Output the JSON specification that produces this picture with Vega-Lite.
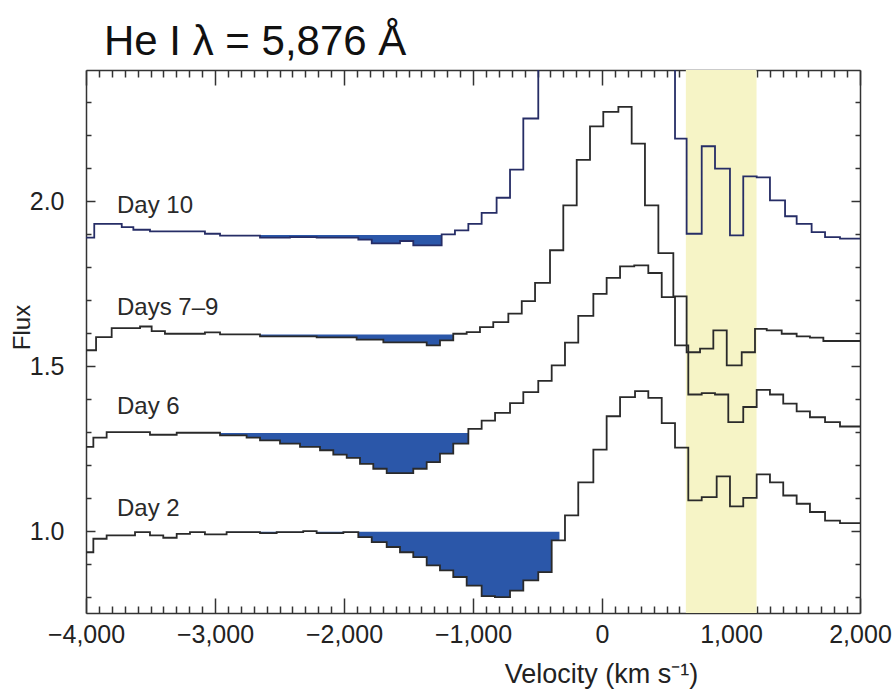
{
  "$schema": "https://vega.github.io/schema/vega-lite/v6.json",
  "width": 774,
  "height": 543,
  "autosize": "none",
  "padding": {"left": 86, "top": 70, "right": 32, "bottom": 78},
  "background": "white",
  "title": {"text": "He I λ = 5,876 Å", "anchor": "start", "frame": "group", "font": "Liberation Sans", "fontSize": 42, "fontWeight": "normal", "color": "#111111", "dx": 18, "dy": 45, "offset": 17, "baseline": "alphabetic"},
  "config": {
    "view": {"stroke": null},
    "axis": {"grid": false, "domainColor": "#333333", "domainWidth": 1.5, "tickColor": "#333333", "tickWidth": 1.5, "labelFont": "Liberation Sans", "labelFontSize": 25, "labelColor": "#222222", "titleFont": "Liberation Sans", "titleFontSize": 25, "titleFontWeight": "normal", "titleColor": "#222222", "labelOverlap": false, "labelBound": false, "labelFlush": false, "zindex": 1}
  },
  "datasets": {
    "band": [{"v0": 650, "v1": 1198}],
    "spectra": [
      {"series": "Day 2", "v": -4000, "f": 0.936}, {"series": "Day 2", "v": -3943, "f": 0.977}, {"series": "Day 2", "v": -3840, "f": 0.987}, {"series": "Day 2", "v": -3620, "f": 0.997}, {"series": "Day 2", "v": -3504, "f": 0.987}, {"series": "Day 2", "v": -3401, "f": 0.980}, {"series": "Day 2", "v": -3297, "f": 0.992}, {"series": "Day 2", "v": -3194, "f": 0.997}, {"series": "Day 2", "v": -3078, "f": 0.990}, {"series": "Day 2", "v": -2910, "f": 0.997}, {"series": "Day 2", "v": -2651, "f": 0.994}, {"series": "Day 2", "v": -2522, "f": 0.997}, {"series": "Day 2", "v": -2316, "f": 1.000}, {"series": "Day 2", "v": -2212, "f": 0.994}, {"series": "Day 2", "v": -2005, "f": 0.997}, {"series": "Day 2", "v": -1889, "f": 0.982}, {"series": "Day 2", "v": -1785, "f": 0.967}, {"series": "Day 2", "v": -1669, "f": 0.952}, {"series": "Day 2", "v": -1566, "f": 0.936}, {"series": "Day 2", "v": -1463, "f": 0.921}, {"series": "Day 2", "v": -1359, "f": 0.896}, {"series": "Day 2", "v": -1256, "f": 0.881}, {"series": "Day 2", "v": -1153, "f": 0.861}, {"series": "Day 2", "v": -1049, "f": 0.835}, {"series": "Day 2", "v": -933, "f": 0.803}, {"series": "Day 2", "v": -830, "f": 0.800}, {"series": "Day 2", "v": -713, "f": 0.820}, {"series": "Day 2", "v": -610, "f": 0.851}, {"series": "Day 2", "v": -494, "f": 0.876}, {"series": "Day 2", "v": -390, "f": 0.972}, {"series": "Day 2", "v": -287, "f": 1.048}, {"series": "Day 2", "v": -184, "f": 1.148}, {"series": "Day 2", "v": -67, "f": 1.247}, {"series": "Day 2", "v": 36, "f": 1.348}, {"series": "Day 2", "v": 140, "f": 1.406}, {"series": "Day 2", "v": 256, "f": 1.424}, {"series": "Day 2", "v": 359, "f": 1.404}, {"series": "Day 2", "v": 463, "f": 1.327}, {"series": "Day 2", "v": 566, "f": 1.253}, {"series": "Day 2", "v": 669, "f": 1.093}, {"series": "Day 2", "v": 773, "f": 1.103}, {"series": "Day 2", "v": 889, "f": 1.166}, {"series": "Day 2", "v": 992, "f": 1.075}, {"series": "Day 2", "v": 1095, "f": 1.101}, {"series": "Day 2", "v": 1199, "f": 1.172}, {"series": "Day 2", "v": 1302, "f": 1.148}, {"series": "Day 2", "v": 1405, "f": 1.108}, {"series": "Day 2", "v": 1509, "f": 1.083}, {"series": "Day 2", "v": 1612, "f": 1.058}, {"series": "Day 2", "v": 1729, "f": 1.032}, {"series": "Day 2", "v": 1845, "f": 1.024}, {"series": "Day 2", "v": 2000, "f": 1.024},
      {"series": "Day 6", "v": -4000, "f": 1.255}, {"series": "Day 6", "v": -3943, "f": 1.283}, {"series": "Day 6", "v": -3840, "f": 1.300}, {"series": "Day 6", "v": -3504, "f": 1.292}, {"series": "Day 6", "v": -3297, "f": 1.298}, {"series": "Day 6", "v": -2961, "f": 1.290}, {"series": "Day 6", "v": -2755, "f": 1.283}, {"series": "Day 6", "v": -2651, "f": 1.275}, {"series": "Day 6", "v": -2496, "f": 1.265}, {"series": "Day 6", "v": -2341, "f": 1.255}, {"series": "Day 6", "v": -2186, "f": 1.245}, {"series": "Day 6", "v": -2083, "f": 1.232}, {"series": "Day 6", "v": -1979, "f": 1.222}, {"series": "Day 6", "v": -1876, "f": 1.204}, {"series": "Day 6", "v": -1773, "f": 1.189}, {"series": "Day 6", "v": -1669, "f": 1.176}, {"series": "Day 6", "v": -1566, "f": 1.176}, {"series": "Day 6", "v": -1463, "f": 1.189}, {"series": "Day 6", "v": -1359, "f": 1.209}, {"series": "Day 6", "v": -1256, "f": 1.235}, {"series": "Day 6", "v": -1153, "f": 1.265}, {"series": "Day 6", "v": -1036, "f": 1.310}, {"series": "Day 6", "v": -933, "f": 1.335}, {"series": "Day 6", "v": -829, "f": 1.358}, {"series": "Day 6", "v": -713, "f": 1.388}, {"series": "Day 6", "v": -610, "f": 1.421}, {"series": "Day 6", "v": -494, "f": 1.455}, {"series": "Day 6", "v": -390, "f": 1.502}, {"series": "Day 6", "v": -287, "f": 1.571}, {"series": "Day 6", "v": -184, "f": 1.652}, {"series": "Day 6", "v": -67, "f": 1.719}, {"series": "Day 6", "v": 36, "f": 1.767}, {"series": "Day 6", "v": 140, "f": 1.802}, {"series": "Day 6", "v": 250, "f": 1.805}, {"series": "Day 6", "v": 359, "f": 1.782}, {"series": "Day 6", "v": 463, "f": 1.709}, {"series": "Day 6", "v": 566, "f": 1.563}, {"series": "Day 6", "v": 669, "f": 1.414}, {"series": "Day 6", "v": 773, "f": 1.418}, {"series": "Day 6", "v": 876, "f": 1.414}, {"series": "Day 6", "v": 979, "f": 1.330}, {"series": "Day 6", "v": 1095, "f": 1.376}, {"series": "Day 6", "v": 1199, "f": 1.428}, {"series": "Day 6", "v": 1302, "f": 1.414}, {"series": "Day 6", "v": 1405, "f": 1.386}, {"series": "Day 6", "v": 1509, "f": 1.363}, {"series": "Day 6", "v": 1612, "f": 1.345}, {"series": "Day 6", "v": 1729, "f": 1.330}, {"series": "Day 6", "v": 1845, "f": 1.317}, {"series": "Day 6", "v": 2000, "f": 1.317},
      {"series": "Days 7–9", "v": -4000, "f": 1.548}, {"series": "Days 7–9", "v": -3922, "f": 1.588}, {"series": "Days 7–9", "v": -3801, "f": 1.615}, {"series": "Days 7–9", "v": -3581, "f": 1.620}, {"series": "Days 7–9", "v": -3491, "f": 1.606}, {"series": "Days 7–9", "v": -3388, "f": 1.598}, {"series": "Days 7–9", "v": -3078, "f": 1.602}, {"series": "Days 7–9", "v": -2961, "f": 1.596}, {"series": "Days 7–9", "v": -2651, "f": 1.590}, {"series": "Days 7–9", "v": -2212, "f": 1.587}, {"series": "Days 7–9", "v": -1902, "f": 1.580}, {"series": "Days 7–9", "v": -1695, "f": 1.572}, {"series": "Days 7–9", "v": -1359, "f": 1.563}, {"series": "Days 7–9", "v": -1256, "f": 1.578}, {"series": "Days 7–9", "v": -1153, "f": 1.598}, {"series": "Days 7–9", "v": -1049, "f": 1.603}, {"series": "Days 7–9", "v": -946, "f": 1.618}, {"series": "Days 7–9", "v": -843, "f": 1.633}, {"series": "Days 7–9", "v": -726, "f": 1.659}, {"series": "Days 7–9", "v": -622, "f": 1.697}, {"series": "Days 7–9", "v": -519, "f": 1.752}, {"series": "Days 7–9", "v": -403, "f": 1.851}, {"series": "Days 7–9", "v": -300, "f": 1.987}, {"series": "Days 7–9", "v": -196, "f": 2.125}, {"series": "Days 7–9", "v": -93, "f": 2.226}, {"series": "Days 7–9", "v": 10, "f": 2.270}, {"series": "Days 7–9", "v": 127, "f": 2.285}, {"series": "Days 7–9", "v": 230, "f": 2.174}, {"series": "Days 7–9", "v": 333, "f": 1.987}, {"series": "Days 7–9", "v": 437, "f": 1.842}, {"series": "Days 7–9", "v": 553, "f": 1.711}, {"series": "Days 7–9", "v": 656, "f": 1.542}, {"series": "Days 7–9", "v": 760, "f": 1.553}, {"series": "Days 7–9", "v": 863, "f": 1.608}, {"series": "Days 7–9", "v": 967, "f": 1.502}, {"series": "Days 7–9", "v": 1083, "f": 1.542}, {"series": "Days 7–9", "v": 1186, "f": 1.613}, {"series": "Days 7–9", "v": 1277, "f": 1.608}, {"series": "Days 7–9", "v": 1393, "f": 1.598}, {"series": "Days 7–9", "v": 1509, "f": 1.590}, {"series": "Days 7–9", "v": 1612, "f": 1.586}, {"series": "Days 7–9", "v": 1716, "f": 1.576}, {"series": "Days 7–9", "v": 2000, "f": 1.576},
      {"series": "Day 10", "v": -4000, "f": 1.889}, {"series": "Day 10", "v": -3936, "f": 1.931}, {"series": "Day 10", "v": -3723, "f": 1.921}, {"series": "Day 10", "v": -3633, "f": 1.913}, {"series": "Day 10", "v": -3504, "f": 1.908}, {"series": "Day 10", "v": -3078, "f": 1.901}, {"series": "Day 10", "v": -2961, "f": 1.895}, {"series": "Day 10", "v": -2651, "f": 1.889}, {"series": "Day 10", "v": -2419, "f": 1.891}, {"series": "Day 10", "v": -2212, "f": 1.889}, {"series": "Day 10", "v": -1889, "f": 1.883}, {"series": "Day 10", "v": -1785, "f": 1.872}, {"series": "Day 10", "v": -1566, "f": 1.879}, {"series": "Day 10", "v": -1463, "f": 1.866}, {"series": "Day 10", "v": -1243, "f": 1.899}, {"series": "Day 10", "v": -1140, "f": 1.911}, {"series": "Day 10", "v": -1036, "f": 1.931}, {"series": "Day 10", "v": -933, "f": 1.964}, {"series": "Day 10", "v": -817, "f": 2.010}, {"series": "Day 10", "v": -713, "f": 2.095}, {"series": "Day 10", "v": -610, "f": 2.250}, {"series": "Day 10", "v": -494, "f": 2.5}, {"series": "Day 10", "v": -390, "f": 2.7}, {"series": "Day 10", "v": -287, "f": 2.85}, {"series": "Day 10", "v": -184, "f": 2.95}, {"series": "Day 10", "v": -80, "f": 3.0}, {"series": "Day 10", "v": 23, "f": 2.95}, {"series": "Day 10", "v": 127, "f": 2.85}, {"series": "Day 10", "v": 230, "f": 2.7}, {"series": "Day 10", "v": 333, "f": 2.6}, {"series": "Day 10", "v": 437, "f": 2.45}, {"series": "Day 10", "v": 566, "f": 2.189}, {"series": "Day 10", "v": 656, "f": 1.901}, {"series": "Day 10", "v": 773, "f": 2.166}, {"series": "Day 10", "v": 876, "f": 2.098}, {"series": "Day 10", "v": 992, "f": 1.896}, {"series": "Day 10", "v": 1095, "f": 2.075}, {"series": "Day 10", "v": 1199, "f": 2.072}, {"series": "Day 10", "v": 1302, "f": 2.002}, {"series": "Day 10", "v": 1419, "f": 1.954}, {"series": "Day 10", "v": 1509, "f": 1.931}, {"series": "Day 10", "v": 1625, "f": 1.906}, {"series": "Day 10", "v": 1729, "f": 1.891}, {"series": "Day 10", "v": 1845, "f": 1.886}, {"series": "Day 10", "v": 2000, "f": 1.886}
    ],
    "fills": [
      {"series": "Day 10", "v": -2961, "f": 1.895, "lvl": 1.897}, {"series": "Day 10", "v": -2651, "f": 1.889, "lvl": 1.897}, {"series": "Day 10", "v": -2419, "f": 1.891, "lvl": 1.897}, {"series": "Day 10", "v": -2212, "f": 1.889, "lvl": 1.897}, {"series": "Day 10", "v": -1889, "f": 1.883, "lvl": 1.897}, {"series": "Day 10", "v": -1785, "f": 1.872, "lvl": 1.897}, {"series": "Day 10", "v": -1566, "f": 1.879, "lvl": 1.897}, {"series": "Day 10", "v": -1463, "f": 1.866, "lvl": 1.897}, {"series": "Day 10", "v": -1243, "f": 1.897, "lvl": 1.897},
      {"series": "Days 7–9", "v": -2961, "f": 1.596, "lvl": 1.596}, {"series": "Days 7–9", "v": -2651, "f": 1.590, "lvl": 1.596}, {"series": "Days 7–9", "v": -2212, "f": 1.587, "lvl": 1.596}, {"series": "Days 7–9", "v": -1902, "f": 1.580, "lvl": 1.596}, {"series": "Days 7–9", "v": -1695, "f": 1.572, "lvl": 1.596}, {"series": "Days 7–9", "v": -1359, "f": 1.563, "lvl": 1.596}, {"series": "Days 7–9", "v": -1256, "f": 1.578, "lvl": 1.596}, {"series": "Days 7–9", "v": -1153, "f": 1.596, "lvl": 1.596},
      {"series": "Day 6", "v": -2961, "f": 1.290, "lvl": 1.297}, {"series": "Day 6", "v": -2755, "f": 1.283, "lvl": 1.297}, {"series": "Day 6", "v": -2651, "f": 1.275, "lvl": 1.297}, {"series": "Day 6", "v": -2496, "f": 1.265, "lvl": 1.297}, {"series": "Day 6", "v": -2341, "f": 1.255, "lvl": 1.297}, {"series": "Day 6", "v": -2186, "f": 1.245, "lvl": 1.297}, {"series": "Day 6", "v": -2083, "f": 1.232, "lvl": 1.297}, {"series": "Day 6", "v": -1979, "f": 1.222, "lvl": 1.297}, {"series": "Day 6", "v": -1876, "f": 1.204, "lvl": 1.297}, {"series": "Day 6", "v": -1773, "f": 1.189, "lvl": 1.297}, {"series": "Day 6", "v": -1669, "f": 1.176, "lvl": 1.297}, {"series": "Day 6", "v": -1566, "f": 1.176, "lvl": 1.297}, {"series": "Day 6", "v": -1463, "f": 1.189, "lvl": 1.297}, {"series": "Day 6", "v": -1359, "f": 1.209, "lvl": 1.297}, {"series": "Day 6", "v": -1256, "f": 1.235, "lvl": 1.297}, {"series": "Day 6", "v": -1153, "f": 1.265, "lvl": 1.297}, {"series": "Day 6", "v": -1036, "f": 1.297, "lvl": 1.297},
      {"series": "Day 2", "v": -2910, "f": 0.997, "lvl": 0.998}, {"series": "Day 2", "v": -2651, "f": 0.994, "lvl": 0.998}, {"series": "Day 2", "v": -2522, "f": 0.997, "lvl": 0.998}, {"series": "Day 2", "v": -2316, "f": 0.998, "lvl": 0.998}, {"series": "Day 2", "v": -2212, "f": 0.994, "lvl": 0.998}, {"series": "Day 2", "v": -2005, "f": 0.997, "lvl": 0.998}, {"series": "Day 2", "v": -1889, "f": 0.982, "lvl": 0.998}, {"series": "Day 2", "v": -1785, "f": 0.967, "lvl": 0.998}, {"series": "Day 2", "v": -1669, "f": 0.952, "lvl": 0.998}, {"series": "Day 2", "v": -1566, "f": 0.936, "lvl": 0.998}, {"series": "Day 2", "v": -1463, "f": 0.921, "lvl": 0.998}, {"series": "Day 2", "v": -1359, "f": 0.896, "lvl": 0.998}, {"series": "Day 2", "v": -1256, "f": 0.881, "lvl": 0.998}, {"series": "Day 2", "v": -1153, "f": 0.861, "lvl": 0.998}, {"series": "Day 2", "v": -1049, "f": 0.835, "lvl": 0.998}, {"series": "Day 2", "v": -933, "f": 0.803, "lvl": 0.998}, {"series": "Day 2", "v": -830, "f": 0.800, "lvl": 0.998}, {"series": "Day 2", "v": -713, "f": 0.820, "lvl": 0.998}, {"series": "Day 2", "v": -610, "f": 0.851, "lvl": 0.998}, {"series": "Day 2", "v": -494, "f": 0.876, "lvl": 0.998}, {"series": "Day 2", "v": -390, "f": 0.972, "lvl": 0.998}, {"series": "Day 2", "v": -330, "f": 0.998, "lvl": 0.998}
    ],
    "labels": [
      {"v": -3760, "f": 1.965, "text": "Day 10"},
      {"v": -3760, "f": 1.654, "text": "Days 7–9"},
      {"v": -3760, "f": 1.356, "text": "Day 6"},
      {"v": -3760, "f": 1.0445, "text": "Day 2"}
    ]
  },
  "layer": [
    {
      "data": {"name": "band"},
      "mark": {"type": "rect", "color": "#f6f4c6"},
      "encoding": {
        "x": {"field": "v0", "type": "quantitative", "scale": {"domain": [-4000, 2000], "nice": false, "zero": false}, "axis": null},
        "x2": {"field": "v1"}
      }
    },
    {
      "data": {"name": "fills"},
      "mark": {"type": "area", "interpolate": "step-after", "color": "#2b57a9", "opacity": 1},
      "encoding": {
        "x": {"field": "v", "type": "quantitative", "scale": {"domain": [-4000, 2000], "nice": false, "zero": false},
          "axis": {"orient": "top", "values": [-4000,-3900,-3800,-3700,-3600,-3500,-3400,-3300,-3200,-3100,-3000,-2900,-2800,-2700,-2600,-2500,-2400,-2300,-2200,-2100,-2000,-1900,-1800,-1700,-1600,-1500,-1400,-1300,-1200,-1100,-1000,-900,-800,-700,-600,-500,-400,-300,-200,-100,0,100,200,300,400,500,600,700,800,900,1000,1100,1200,1300,1400,1500,1600,1700,1800,1900,2000], "labels": false, "title": null, "tickSize": {"condition": {"test": "datum.value % 1000 === 0", "value": -15}, "value": -7}}},
        "y": {"field": "f", "type": "quantitative", "scale": {"domain": [0.752, 2.397], "nice": false, "zero": false},
          "axis": {"orient": "right", "values": [0.8,0.9,1.0,1.1,1.2,1.3,1.4,1.5,1.6,1.7,1.8,1.9,2.0,2.1,2.2,2.3], "labels": false, "title": null, "tickSize": {"condition": {"test": "abs(datum.value*2 - round(datum.value*2)) < 0.001", "value": -9}, "value": -5}}},
        "y2": {"field": "lvl"},
        "detail": {"field": "series"}
      }
    },
    {
      "data": {"name": "spectra"},
      "mark": {"type": "line", "interpolate": "step-after", "strokeWidth": 1.8, "clip": true},
      "encoding": {
        "x": {"field": "v", "type": "quantitative", "scale": {"domain": [-4000, 2000], "nice": false, "zero": false},
          "axis": {"orient": "bottom", "values": [-4000,-3900,-3800,-3700,-3600,-3500,-3400,-3300,-3200,-3100,-3000,-2900,-2800,-2700,-2600,-2500,-2400,-2300,-2200,-2100,-2000,-1900,-1800,-1700,-1600,-1500,-1400,-1300,-1200,-1100,-1000,-900,-800,-700,-600,-500,-400,-300,-200,-100,0,100,200,300,400,500,600,700,800,900,1000,1100,1200,1300,1400,1500,1600,1700,1800,1900,2000], "labelExpr": "datum.value % 1000 === 0 ? format(datum.value, ',') : ''", "labelPadding": 24, "title": "Velocity (km s⁻¹)", "titleFontSize": 27, "titleX": 515, "titleY": 69, "titleBaseline": "alphabetic", "tickSize": {"condition": {"test": "datum.value % 1000 === 0", "value": -15}, "value": -7}}},
        "y": {"field": "f", "type": "quantitative", "scale": {"domain": [0.752, 2.397], "nice": false, "zero": false},
          "axis": {"orient": "left", "values": [0.8,0.9,1.0,1.1,1.2,1.3,1.4,1.5,1.6,1.7,1.8,1.9,2.0,2.1,2.2,2.3], "labelExpr": "abs(datum.value*2 - round(datum.value*2)) < 0.001 ? format(datum.value, '.1f') : ''", "labelPadding": 31, "title": "Flux", "titleFontSize": 24, "titleX": -64, "titleY": 257, "titleAngle": -90, "titleBaseline": "middle", "tickSize": {"condition": {"test": "abs(datum.value*2 - round(datum.value*2)) < 0.001", "value": -9}, "value": -5}}},
        "color": {"field": "series", "type": "nominal", "scale": {"domain": ["Day 2", "Day 6", "Days 7–9", "Day 10"], "range": ["#2a2a2a", "#2a2a2a", "#2a2a2a", "#262d66"]}, "legend": null},
        "detail": {"field": "series"}
      }
    },
    {
      "data": {"name": "labels"},
      "mark": {"type": "text", "align": "left", "baseline": "alphabetic", "font": "Liberation Sans", "fontSize": 24, "color": "#2a2a2a"},
      "encoding": {
        "x": {"field": "v", "type": "quantitative", "scale": {"domain": [-4000, 2000], "nice": false, "zero": false}, "axis": null},
        "y": {"field": "f", "type": "quantitative", "scale": {"domain": [0.752, 2.397], "nice": false, "zero": false}, "axis": null},
        "text": {"field": "text"}
      }
    }
  ],
  "resolve": {"axis": {"x": "independent", "y": "independent"}}
}
